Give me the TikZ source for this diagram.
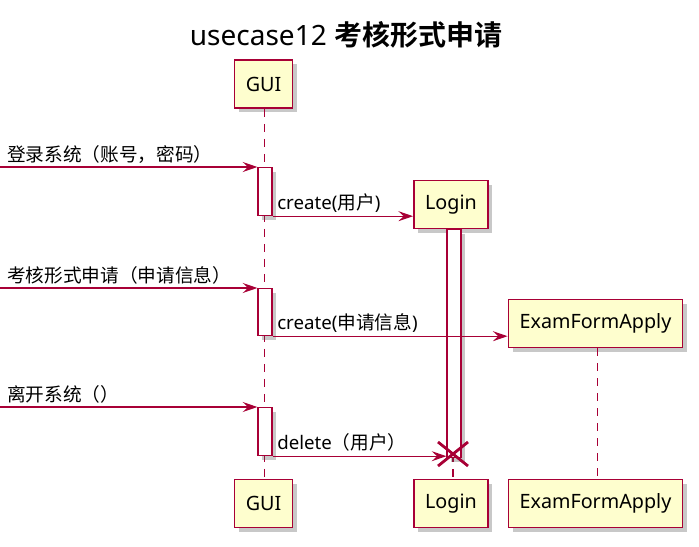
\documentclass[tikz,border=0pt]{standalone}
\usepackage{fontspec}
\setmainfont{Noto Sans}
\newfontfamily\cjk{Noto Sans CJK SC}[BoldFont={Noto Sans CJK SC Bold}]
\usetikzlibrary{arrows.meta,shadows}
\definecolor{pumlred}{HTML}{A80036}
\definecolor{pumlfill}{HTML}{FEFECE}
\tikzset{
  shad/.style={drop shadow={shadow xshift=3pt,shadow yshift=-3pt,opacity=0.3,fill=black!70}},
  part/.style={draw=pumlred,fill=pumlfill,line width=1.4pt,shad,inner sep=0pt,minimum height=36pt,
    font=\fontsize{14.8pt}{17pt}\selectfont},
  actbox/.style={draw=pumlred,fill=white,line width=0.9pt,shad,inner sep=0pt,minimum width=10.5pt},
  life/.style={draw=pumlred,line width=1pt,dash pattern=on 6pt off 5.25pt},
  msg/.style={draw=pumlred,line width=0.9pt,-{Stealth[length=11pt,width=7.5pt,inset=4pt]}},
  lbl/.style={inner sep=0pt,anchor=base west,font=\fontsize{14pt}{16pt}\selectfont},
  ttl/.style={inner sep=0pt,anchor=base,font=\fontsize{21pt}{25pt}\selectfont},
}
\begin{document}
\begin{tikzpicture}[x=0.75pt,y=-0.75pt]
\useasboundingbox[fill=white] (0,0) rectangle (699,546);
% title
\node[ttl] (title) at (346,45) {usecase12 {\cjk\bfseries 考核形式申请}};
% participants
\node[part,minimum width=43.5pt] (gui) at (263.5,84) {GUI};
\node[part,minimum width=43.5pt] (guib) at (263.5,503.5) {GUI};
\node[part,minimum width=55.5pt] (login) at (451,204.5) {Login};
\node[part,minimum width=55.5pt] (loginb) at (451,503.5) {Login};
\node[part,minimum width=130.5pt] (exam) at (595.5,323.5) {ExamFormApply};
\node[part,minimum width=130.5pt] (examb) at (595.5,503.5) {ExamFormApply};
% lifelines
\draw[life] ([xshift=0.75pt]gui.south) -- ([xshift=0.75pt]guib.north);
\draw[life] ([xshift=1.5pt]login.south) -- ([xshift=1.5pt]loginb.north);
\draw[life] ([xshift=1.5pt]exam.south) -- ([xshift=1.5pt]examb.north);
% activations
\node[actbox,minimum height=36pt,anchor=north] (a1) at (265,167) {};
\node[actbox,minimum height=35.25pt,anchor=north] (a2) at (265,288) {};
\node[actbox,minimum height=36pt,anchor=north] (a3) at (265,407) {};
\node[actbox,minimum height=171pt,anchor=north] (la) at (454,229) {};
% messages
\coordinate (s1) at (0,167);
\coordinate (s3) at (0,288);
\coordinate (s5) at (0,407);
\draw[msg] (s1) -- (a1.north west);
\node[lbl] (l1) at (7,161) {\cjk 登录系统（账号，密码）};
\draw[msg] (a1.south east) -- (a1.south east -| login.west);
\node[lbl] (l2) at (277,209) {create(\cjk 用户\rmfamily)};
\draw[msg] (s3) -- (a2.north west);
\node[lbl] (l3) at (7,282) {\cjk 考核形式申请（申请信息）};
\draw[msg] (a2.south east) -- (a2.south east -| exam.west);
\node[lbl] (l4) at (277,329) {create(\cjk 申请信息\rmfamily)};
\draw[msg] (s5) -- (a3.north west);
\node[lbl] (l5) at (7,401) {\cjk 离开系统（）};
\draw[msg] (a3.south east) -- (a3.south east -| la.west);
\node[lbl] (l6) at (277,449) {delete{\cjk （用户）}};
% destroy mark
\coordinate (x) at (453,454);
\draw[pumlred,line width=2.1pt] ([shift={(-15,-12)}]x) -- ([shift={(15,12)}]x)
  ([shift={(-15,12)}]x) -- ([shift={(15,-12)}]x);
\end{tikzpicture}
\end{document}
